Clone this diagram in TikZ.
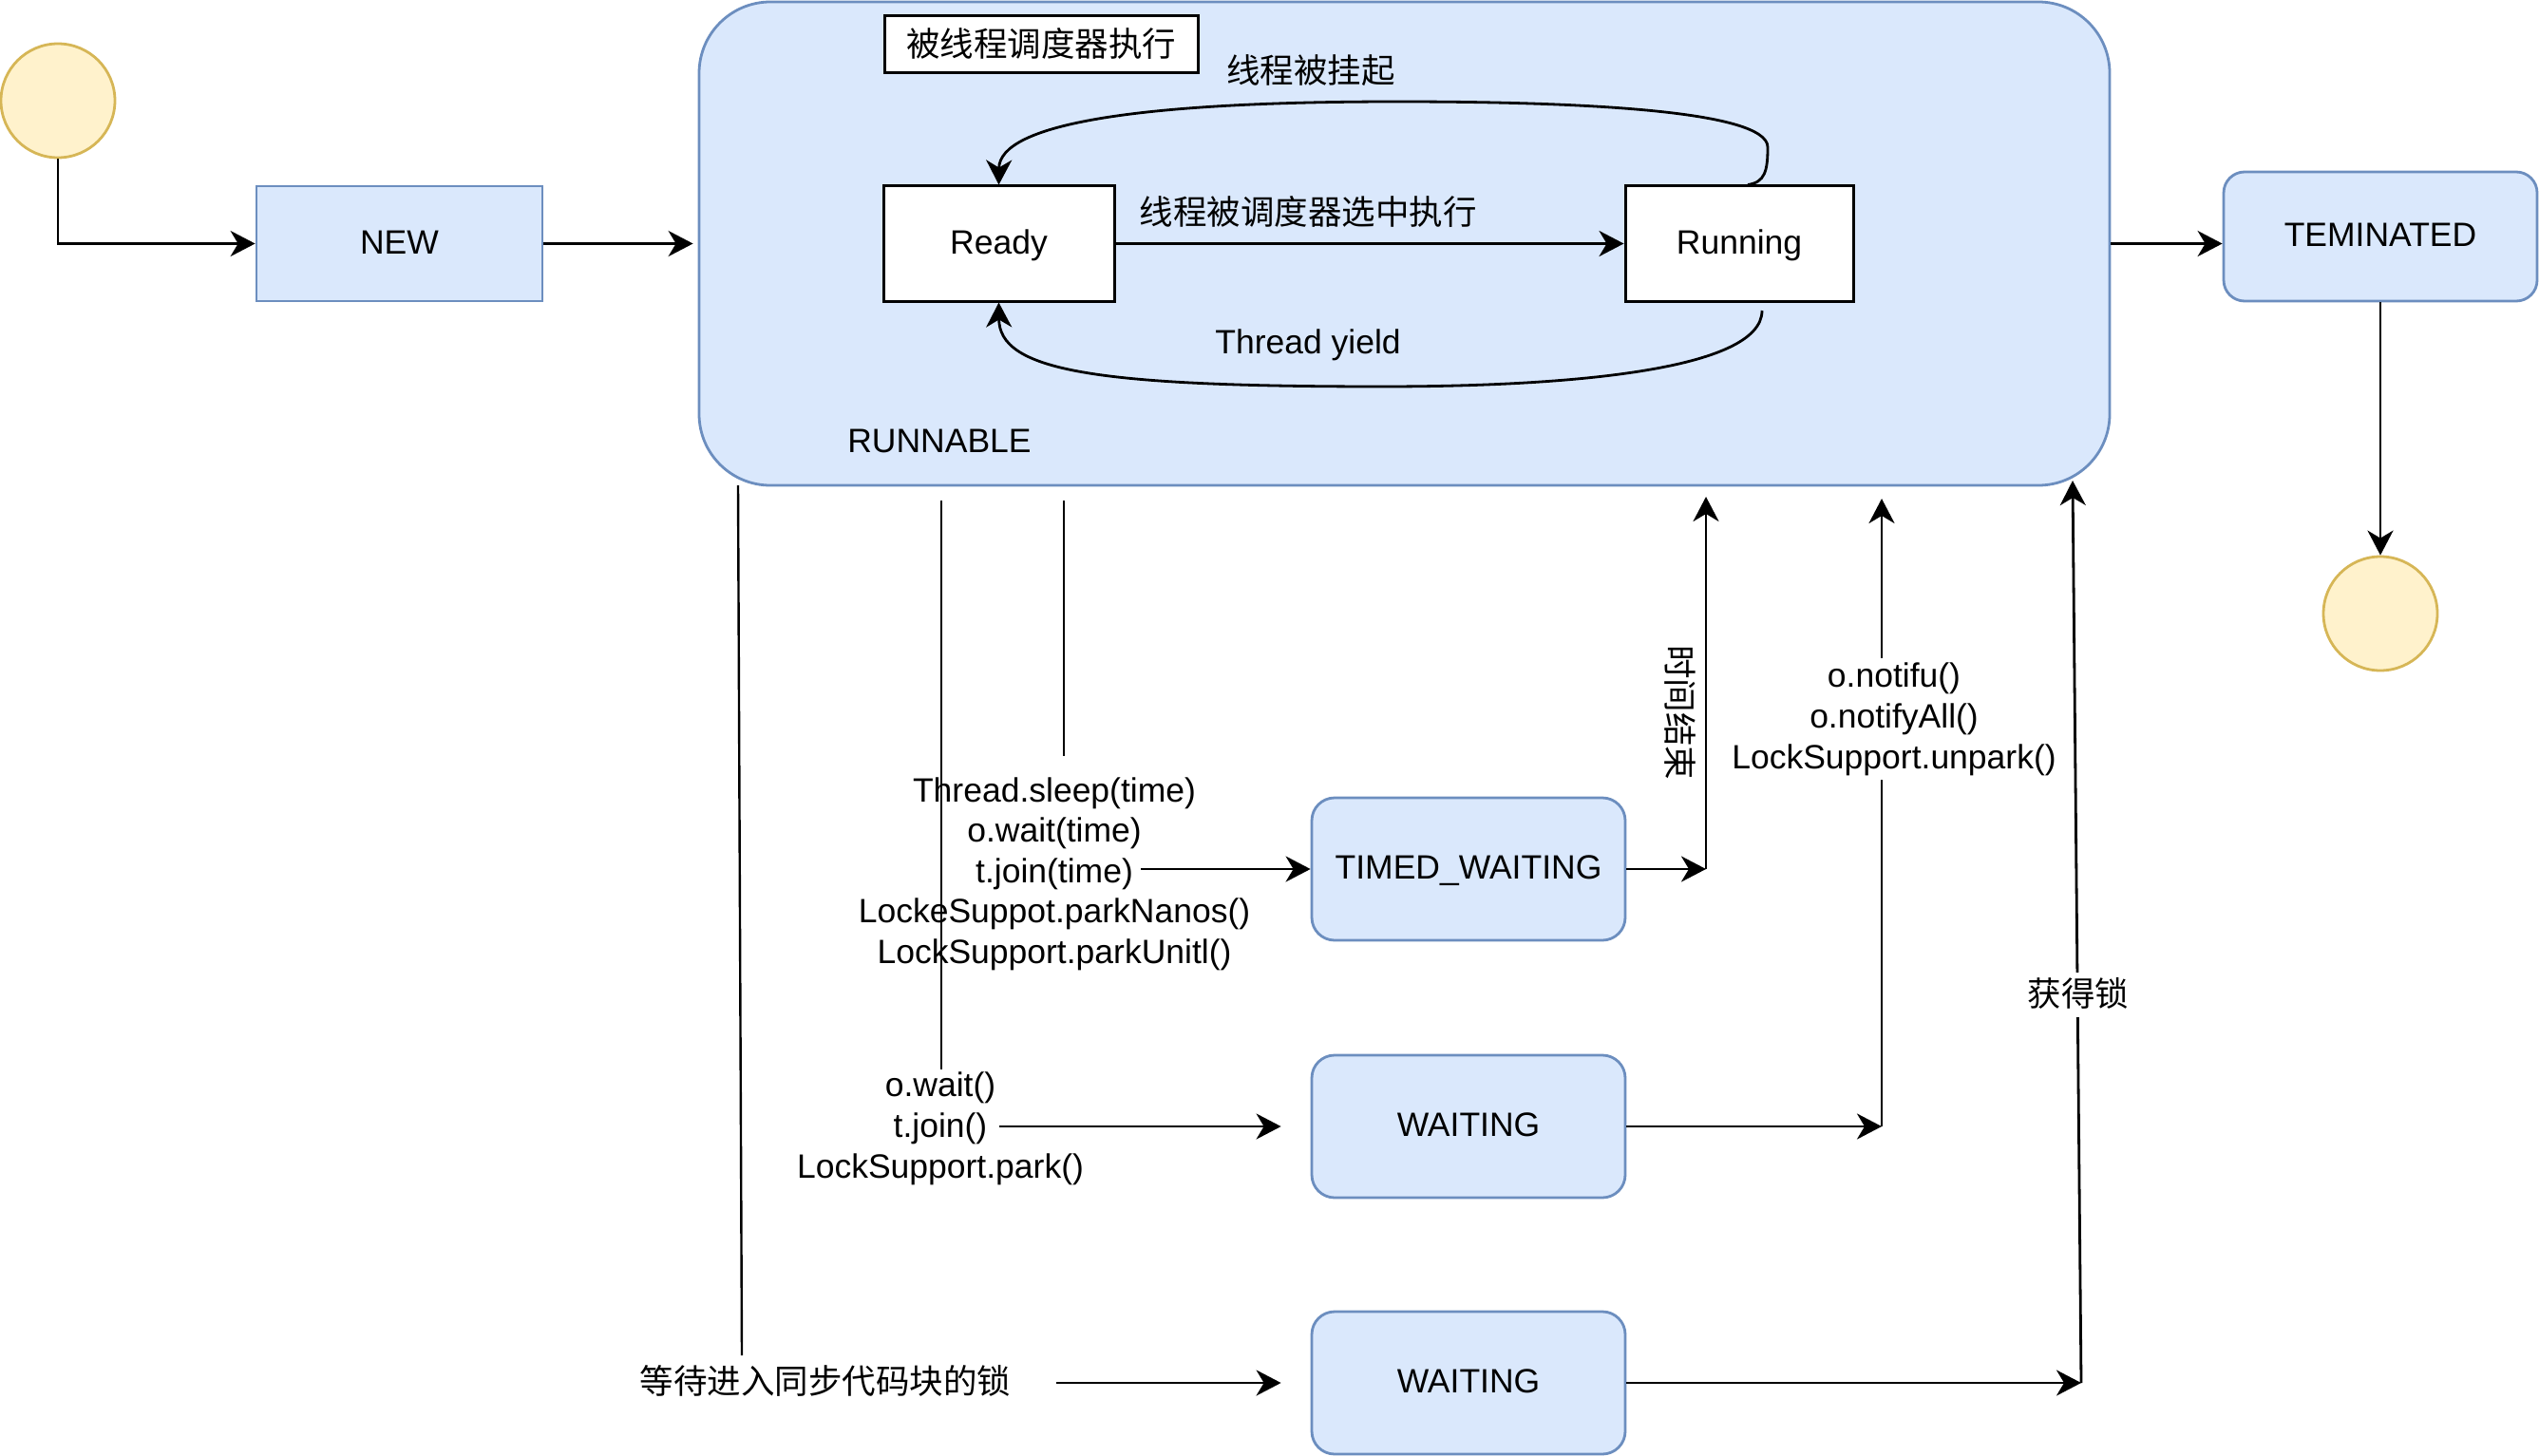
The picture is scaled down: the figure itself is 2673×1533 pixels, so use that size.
\documentclass[tikz,border=0pt]{standalone}
\usepackage{fontspec}
\setmainfont{Liberation Sans}
\newfontfamily\cjk{Noto Sans CJK SC}
\usetikzlibrary{arrows.meta}
\definecolor{bfill}{HTML}{DAE8FC}
\definecolor{bdraw}{HTML}{6C8EBF}
\definecolor{yfill}{HTML}{FFF2CC}
\definecolor{ydraw}{HTML}{D6B656}
\begin{document}
\begin{tikzpicture}[x=1pt,y=-1pt,
  every node/.style={font=\fontsize{35.5}{43}\selectfont, inner sep=0pt},
  one/.style={text height=32pt, text depth=7pt},
  boxtext/.style={text height=28pt, text depth=7pt},
  bluebox/.style={boxtext, draw=bdraw, fill=bfill, line width=2.8pt},
  plainbox/.style={boxtext, draw=black, fill=white, line width=3pt},
  circ/.style={circle, draw=ydraw, fill=yfill, line width=2.8pt, minimum size=120pt},
  arr/.style={line width=2.8pt, -{Stealth[length=26pt,width=27pt,inset=8pt]}},
  ln/.style={line width=2.4pt},
  txt/.style={align=center},
]
\useasboundingbox (0,0) rectangle (2673,1533);

% states
\node[circ] (start) at (61,106) {};
\node[bluebox, minimum width=301pt, minimum height=121pt] (new) at (420.5,256.5) {NEW};
\node[bluebox, rounded corners=75pt, minimum width=1485pt, minimum height=509pt] (run) at (1478.5,256.5) {};
\node[bluebox, rounded corners=22pt, minimum width=330pt, minimum height=136pt] (term) at (2506,249) {TEMINATED};
\node[circ] (endc) at (2506,646) {};
\node[plainbox, minimum width=243pt, minimum height=121pt] (ready) at (1051.5,256.5) {Ready};
\node[plainbox, minimum width=240pt, minimum height=121pt] (running) at (1831,256.5) {Running};
\node[plainbox, one, minimum width=330pt, minimum height=60pt] (sched) at (1096,47) {\cjk 被线程调度器执行};
\node[bluebox, rounded corners=24pt, minimum width=330pt, minimum height=150pt] (tw) at (1546,915) {TIMED\_WAITING};
\node[bluebox, rounded corners=24pt, minimum width=330pt, minimum height=150pt] (w1) at (1546,1186) {WAITING};
\node[bluebox, rounded corners=24pt, minimum width=330pt, minimum height=150pt] (w2) at (1546,1456) {WAITING};

% labels inside RUNNABLE
\node[one] (lsusp) at (1380,75) {\cjk 线程被挂起};
\node[one] (lsel) at (1377,224) {\cjk 线程被调度器选中执行};
\node[one] (lyield) at (1377,360) {Thread yield};
\node[one] (lrun) at (989,464) {RUNNABLE};

% inner transitions
\draw[arr] (ready) -- (running);
\draw[arr] ([xshift=9pt]running.north) .. controls (1858,192) and (1861,180) .. (1861,155)
  .. controls (1861,115) and (1650,107) .. (1471,107)
  .. controls (1200,107) and (1052,130) .. (ready.north);
\coordinate (ys) at (1855,327);
\draw[arr] (ys) .. controls (1855,390) and (1650,407) .. (1455,407)
  .. controls (1150,407) and (1052,390) .. (ready.south);

% outer transitions
\draw[arr] (start) |- (new);
\draw[arr, shorten >=5pt] (new) -- (run);
\draw[arr] (run.east) -- (term.west |- run.east);
\draw[arr] (term) -- (endc);

% lines down from RUNNABLE
\coordinate (pA1) at (777,511);
\coordinate (pA2) at (781,1427);
\coordinate (pA3) at (1112,1456);
\draw[ln] (pA1) -- (pA2);
\node[one] (llock) at (869,1455) {\cjk 等待进入同步代码块的锁};
\draw[arr] (pA3) -- ([xshift=-31pt]w2.west);

\coordinate (pB1) at (991,527);
\coordinate (pB2) at (991,1126);
\coordinate (pB3) at (1052,1186);
\draw[ln] (pB1) -- (pB2);
\node[txt] (lwait) at (990,1188) {o.wait()\\t.join()\\LockSupport.park()};
\draw[arr] (pB3) -- ([xshift=-31pt]w1.west);

\coordinate (pC1) at (1120,527);
\coordinate (pC2) at (1120,796);
\coordinate (pC3) at (1201,915);
\draw[ln] (pC1) -- (pC2);
\node[txt, font=\fontsize{35.5}{42.5}\selectfont] (ltimed) at (1110,920) {Thread.sleep(time)\\o.wait(time)\\t.join(time)\\LockeSuppot.parkNanos()\\LockSupport.parkUnitl()};
\draw[arr] (pC3) -- (tw.west);

% back to RUNNABLE
\coordinate (pT) at (1796,915);
\coordinate (pT2) at (1796,523);
\draw[arr] (tw.east) -- (pT);
\draw[arr] (pT) -- (pT2);
\node[one, rotate=-90] (ltime) at (1768,750) {\cjk 时间结束};

\coordinate (pW) at (1981,1186);
\coordinate (pW2) at (1981,525);
\draw[arr] (w1.east) -- (pW);
\draw[arr] (pW) -- (pW2);
\node[txt, fill=white, inner ysep=4pt] (lnotify) at (1994,757) {o.notifu()\\o.notifyAll()\\LockSupport.unpark()};

\coordinate (pL) at (2191,1456);
\coordinate (pL2) at (2182,506);
\draw[arr] (w2.east) -- (pL);
\draw[arr] (pL) -- (pL2);
\node[one, fill=white, inner ysep=4pt] (lgot) at (2188,1047) {\cjk 获得锁};
\end{tikzpicture}
\end{document}
